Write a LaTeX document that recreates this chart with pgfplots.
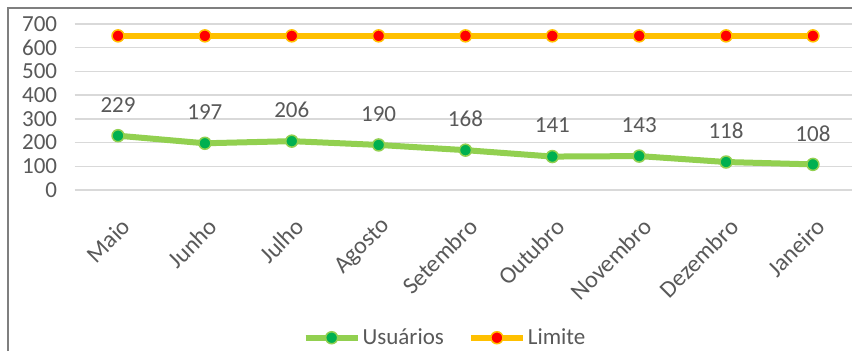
\documentclass[border=0pt]{standalone}
\usepackage{pgfplots}
\pgfplotsset{compat=1.18}
\usepackage{fontspec}
\setmainfont{Carlito}
\definecolor{lgreen}{HTML}{92D050}
\definecolor{dgreen}{HTML}{00B050}
\definecolor{lorange}{HTML}{FFC000}
\definecolor{txt}{HTML}{595959}
\definecolor{gridc}{HTML}{D9D9D9}
\definecolor{frame}{HTML}{7F7F7F}
\begin{document}
\begin{tikzpicture}
\useasboundingbox (0,0) rectangle (852pt,351pt);
\fill[white] (0,0) rectangle (852pt,351pt);
\draw[frame, line width=1.2pt] (8pt,0) -- (8pt,343pt) -- (852pt,343pt);
\begin{axis}[
  at={(74.6pt,161pt)}, anchor=south west,
  scale only axis, width=777.4pt, height=166pt,
  xmin=-0.5, xmax=8.45, ymin=0, ymax=700,
  ytick={0,100,...,700},
  xtick={0,...,8},
  xticklabels={Maio,Junho,Julho,Agosto,Setembro,Outubro,Novembro,Dezembro,Janeiro},
  xticklabel style={rotate=45, anchor=east, yshift=-29pt, xshift=-14pt, font=\fontsize{24}{28}\selectfont},
  yticklabel style={xshift=-14pt},
  ymajorgrids, grid style={gridc, line width=1.5pt},
  axis line style={draw=none},
  major tick style={draw=none},
  clip=false,
  font=\fontsize{23}{27}\selectfont,
  every tick label/.append style={text=txt},
  /pgf/number format/assume math mode=true,
  legend style={at={(0.4765,-0.89)}, anchor=center, draw=none, fill=none,
    legend columns=2, text=txt, font=\fontsize{23}{27}\selectfont,
    /tikz/every even column/.append style={column sep=22pt}},
  legend image code/.code={\draw[#1, mark repeat=2, mark phase=2] plot coordinates {(0pt,0pt) (26pt,0pt) (52pt,0pt)};},
]
\addplot[lgreen, line width=6pt, mark=*, mark size=6pt,
  mark options={fill=dgreen, draw=lgreen, line width=1.5pt},
  nodes near coords, point meta=explicit symbolic,
  every node near coord/.append style={anchor=center, yshift=31pt, text=txt, font=\fontsize{23}{27}\selectfont}]
  table[meta=v] {
  x y v
  0 229 229
  1 197 197
  2 206 206
  3 190 190
  4 168 168
  5 141 141
  6 143 143
  7 118 118
  8 108 108
  };
\addlegendentry{Usuários}
\addplot[lorange, line width=6pt, mark=*, mark size=6pt,
  mark options={fill=red, draw=lorange, line width=1.5pt}]
  coordinates {(0,650) (1,650) (2,650) (3,650) (4,650) (5,650) (6,650) (7,650) (8,650)};
\addlegendentry{Limite}
\end{axis}
\end{tikzpicture}
\end{document}
